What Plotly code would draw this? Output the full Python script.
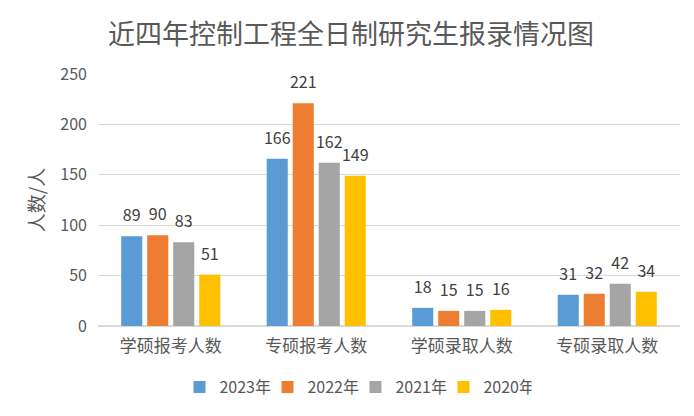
import plotly.graph_objects as go

# categories and yearly series
categories = ["学硕报考人数", "专硕报考人数", "学硕录取人数", "专硕录取人数"]
years = ["2023年", "2022年", "2021年", "2020年"]
values_2023 = [89, 166, 18, 31]
values_2022 = [90, 221, 15, 32]
values_2021 = [83, 162, 15, 42]
values_2020 = [51, 149, 16, 34]
y_ticks = [0, 50, 100, 150, 200, 250]

series = [values_2023, values_2022, values_2021, values_2020]
colors = ["#5B9BD5", "#ED7D31", "#A5A5A5", "#FFC000"]
font_family = "Noto Sans CJK SC, Noto Sans, sans-serif"

fig = go.Figure()
for name, vals, color in zip(years, series, colors):
    fig.add_trace(go.Bar(
        name=name,
        x=categories,
        y=vals,
        offsetgroup=name,
        marker=dict(color=color, line=dict(width=0)),
    ))
    # labels as grouped scatter text, so they sit a bit higher above the bars
    fig.add_trace(go.Scatter(
        x=categories,
        y=vals,
        offsetgroup=name,
        mode="markers+text",
        marker=dict(size=16, opacity=0),
        text=vals,
        textposition="top center",
        textfont=dict(size=16, color="#404040", family=font_family),
        showlegend=False,
        hoverinfo="skip",
        cliponaxis=False,
    ))

# page body has an 8px margin, so the figure is a bit smaller than the window
fig.update_layout(
    width=686,
    height=408,
    margin=dict(l=90, r=14, t=66, b=90),
    paper_bgcolor="white",
    plot_bgcolor="white",
    font=dict(family=font_family, color="#595959"),
    title=dict(
        text="近四年控制工程全日制研究生报录情况图",
        x=0.5,
        xanchor="center",
        y=0.934,
        yanchor="middle",
        font=dict(size=27, color="#595959", family=font_family),
    ),
    barmode="group",
    scattermode="group",
    bargap=0.285,
    bargroupgap=0.19,
    scattergap=0.285,
    showlegend=True,
    legend=dict(
        orientation="h",
        x=0.140,
        xanchor="left",
        y=-0.242,
        yanchor="middle",
        font=dict(size=16, color="#595959"),
        itemwidth=30,
        entrywidth=43,
        entrywidthmode="pixels",
        traceorder="normal",
    ),
)

fig.update_yaxes(
    range=[0, 250],
    tickvals=y_ticks,
    showgrid=True,
    gridcolor="#D9D9D9",
    gridwidth=1,
    zeroline=True,
    zerolinecolor="#D9D9D9",
    showline=False,
    ticklabelstandoff=10,
    tickfont=dict(size=16, color="#595959"),
    title=dict(text="人数/人", font=dict(size=19, color="#595959"), standoff=10),
)
fig.update_xaxes(
    showline=False,
    ticks="",
    ticklabelstandoff=8,
    tickfont=dict(size=17, color="#595959"),
)

fig.write_html("out.html")
